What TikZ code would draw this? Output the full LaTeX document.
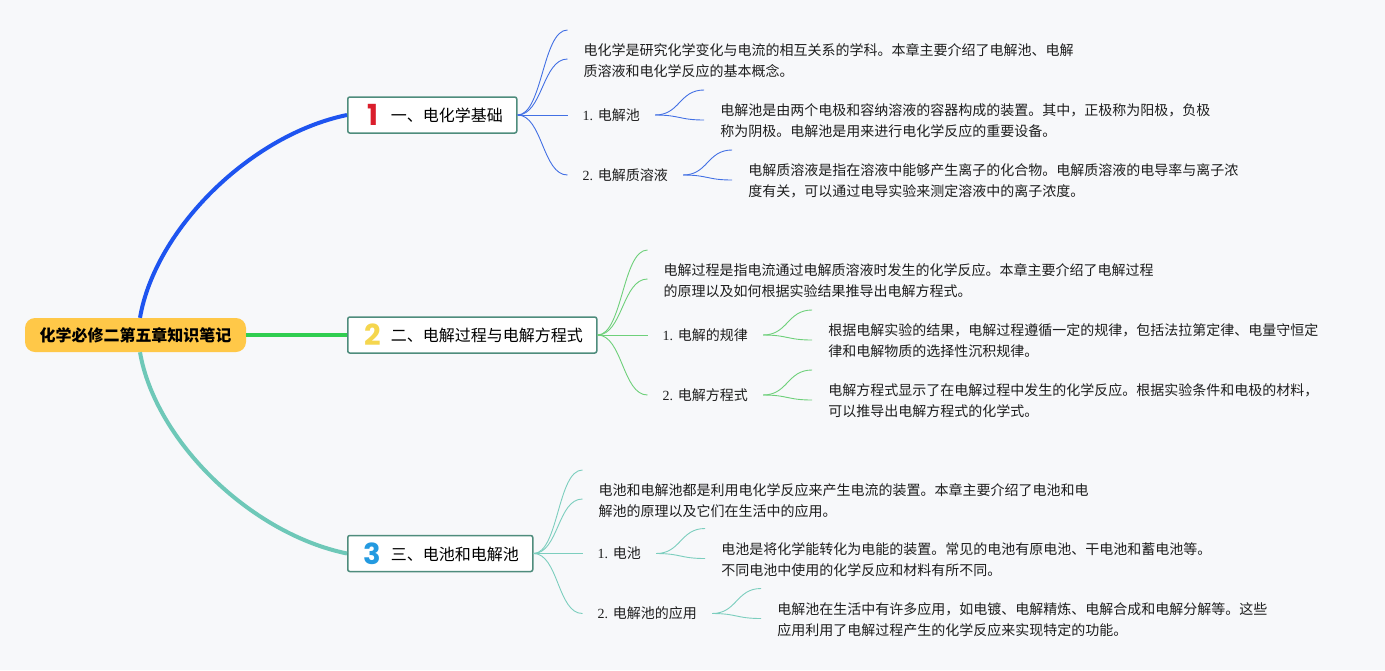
\documentclass[tikz,border=0pt]{standalone}
\usepackage{fontspec}
\setmainfont{Noto Sans CJK SC}
\newfontfamily\lat{Liberation Serif}
\newfontfamily\numfont{Poppins}
\usetikzlibrary{calc}
\definecolor{bgc}{RGB}{247,248,250}
\definecolor{boxc}{RGB}{78,140,124}
\definecolor{rootc}{RGB}{255,200,72}
\definecolor{blueM}{RGB}{30,84,240}
\definecolor{blueT}{RGB}{66,112,228}
\definecolor{greenM}{RGB}{48,206,80}
\definecolor{greenT}{RGB}{110,208,122}
\definecolor{tealM}{RGB}{110,200,184}
\definecolor{tealT}{RGB}{124,206,190}
\definecolor{numR}{RGB}{218,30,44}
\definecolor{numY}{RGB}{245,214,78}
\definecolor{numB}{RGB}{36,154,224}
\definecolor{txt}{RGB}{30,30,30}
\newcommand\numic[2]{\makebox[22pt][c]{\raisebox{-4pt}{\numfont\bfseries\fontsize{29}{29}\selectfont\color{#1}#2}}\hspace{7pt}}
\begin{document}
\begin{tikzpicture}[x=1pt,y=-1pt,
  rootbox/.style={fill=rootc, rounded corners=10pt, minimum height=34pt, inner xsep=14.5pt, inner ysep=0pt, font=\bfseries\fontsize{16}{16}\selectfont, text=black},
  topicbox/.style={draw=boxc, line width=1.5pt, fill=white, rounded corners=2pt, minimum height=36pt, inner xsep=14pt, inner ysep=0pt, anchor=west, font=\fontsize{16}{16}\selectfont, text=black},
  lbl/.style={anchor=west, inner xsep=15pt, inner ysep=2pt, font=\fontsize{14}{14}\selectfont, text=txt},
  desc/.style={anchor=west, align=left, inner sep=0pt, font=\fontsize{14}{21}\selectfont, text=txt},
  thinB/.style={draw=blueT, line width=0.9pt},
  thinG/.style={draw=greenT, line width=0.9pt},
  thinT/.style={draw=tealT, line width=0.9pt}
]
\fill[bgc] (0,0) rectangle (1385,670);
\useasboundingbox (0,0) rectangle (1385,670);

% root and topics
\node[rootbox] (root) at (135.5,335) {化学必修二第五章知识笔记};
\node[topicbox] (t1) at (347,115) {\numic{numR}{1}一、电化学基础};
\node[topicbox] (t2) at (347,335) {\numic{numY}{2}二、电解过程与电解方程式};
\node[topicbox] (t3) at (347,553.5) {\numic{numB}{3}三、电池和电解池};

\draw[blueM, line width=4pt] ($(root.north)+(4.5,0)$) .. controls +(15,-88) and +(-97,20) .. (t1.west);
\draw[greenM, line width=4.5pt] (root.east) -- (t2.west);
\draw[tealM, line width=4pt] ($(root.south)+(4.5,0)$) .. controls +(15,88) and +(-97,-20) .. (t3.west);

% ---------- branch 1
\coordinate (e1a) at ($(t1.east)+(50,-85)$);
\coordinate (e1b) at ($(t1.east)+(50,-56)$);
\node[lbl] (l11) at ($(t1.east)+(50,0)$) {{\lat 1. }电解池};
\node[lbl] (l12) at ($(t1.east)+(50,60)$) {{\lat 2. }电解质溶液};
\node[desc] (d10) at ($(e1a)+(16,30.5)$) {电化学是研究化学变化与电流的相互关系的学科。本章主要介绍了电解池、电解\\质溶液和电化学反应的基本概念。};
\foreach \e in {e1a,e1b,l11.west,l12.west}
  \draw[thinB] (t1.east) .. controls +(25,0) and +(-25,0) .. (\e);
\coordinate (e11a) at ($(l11.east)+(49,-25)$);
\coordinate (e11b) at ($(l11.east)+(49,5)$);
\node[desc] (d11) at ($(e11a)+(16,31)$) {电解池是由两个电极和容纳溶液的容器构成的装置。其中，正极称为阳极，负极\\称为阴极。电解池是用来进行电化学反应的重要设备。};
\draw[thinB] (l11.east) .. controls +(25,0) and +(-25,0) .. (e11a);
\draw[thinB] (l11.east) .. controls +(25,0) and +(-25,0) .. (e11b);
\coordinate (e12a) at ($(l12.east)+(49,-25)$);
\coordinate (e12b) at ($(l12.east)+(49,5)$);
\node[desc] (d12) at ($(e12a)+(16,31)$) {电解质溶液是指在溶液中能够产生离子的化合物。电解质溶液的电导率与离子浓\\度有关，可以通过电导实验来测定溶液中的离子浓度。};
\draw[thinB] (l12.east) .. controls +(25,0) and +(-25,0) .. (e12a);
\draw[thinB] (l12.east) .. controls +(25,0) and +(-25,0) .. (e12b);

% ---------- branch 2
\coordinate (e2a) at ($(t2.east)+(50,-85)$);
\coordinate (e2b) at ($(t2.east)+(50,-56)$);
\node[lbl] (l21) at ($(t2.east)+(50,0)$) {{\lat 1. }电解的规律};
\node[lbl] (l22) at ($(t2.east)+(50,60)$) {{\lat 2. }电解方程式};
\node[desc] (d20) at ($(e2a)+(16,31)$) {电解过程是指电流通过电解质溶液时发生的化学反应。本章主要介绍了电解过程\\的原理以及如何根据实验结果推导出电解方程式。};
\foreach \e in {e2a,e2b,l21.west,l22.west}
  \draw[thinG] (t2.east) .. controls +(25,0) and +(-25,0) .. (\e);
\coordinate (e21a) at ($(l21.east)+(49,-25)$);
\coordinate (e21b) at ($(l21.east)+(49,5)$);
\node[desc] (d21) at ($(e21a)+(16,31)$) {根据电解实验的结果，电解过程遵循一定的规律，包括法拉第定律、电量守恒定\\律和电解物质的选择性沉积规律。};
\draw[thinG] (l21.east) .. controls +(25,0) and +(-25,0) .. (e21a);
\draw[thinG] (l21.east) .. controls +(25,0) and +(-25,0) .. (e21b);
\coordinate (e22a) at ($(l22.east)+(49,-25)$);
\coordinate (e22b) at ($(l22.east)+(49,5)$);
\node[desc] (d22) at ($(e22a)+(16,31)$) {电解方程式显示了在电解过程中发生的化学反应。根据实验条件和电极的材料，\\可以推导出电解方程式的化学式。};
\draw[thinG] (l22.east) .. controls +(25,0) and +(-25,0) .. (e22a);
\draw[thinG] (l22.east) .. controls +(25,0) and +(-25,0) .. (e22b);

% ---------- branch 3
\coordinate (e3a) at ($(t3.east)+(49,-83.5)$);
\coordinate (e3b) at ($(t3.east)+(49,-54.5)$);
\node[lbl] (l31) at ($(t3.east)+(49,0)$) {{\lat 1. }电池};
\node[lbl] (l32) at ($(t3.east)+(49,60)$) {{\lat 2. }电解池的应用};
\node[desc] (d30) at ($(e3a)+(16,31)$) {电池和电解池都是利用电化学反应来产生电流的装置。本章主要介绍了电池和电\\解池的原理以及它们在生活中的应用。};
\foreach \e in {e3a,e3b,l31.west,l32.west}
  \draw[thinT] (t3.east) .. controls +(25,0) and +(-25,0) .. (\e);
\coordinate (e31a) at ($(l31.east)+(49,-25)$);
\coordinate (e31b) at ($(l31.east)+(49,5)$);
\node[desc] (d31) at ($(e31a)+(16,31)$) {电池是将化学能转化为电能的装置。常见的电池有原电池、干电池和蓄电池等。\\不同电池中使用的化学反应和材料有所不同。};
\draw[thinT] (l31.east) .. controls +(25,0) and +(-25,0) .. (e31a);
\draw[thinT] (l31.east) .. controls +(25,0) and +(-25,0) .. (e31b);
\coordinate (e32a) at ($(l32.east)+(49,-25)$);
\coordinate (e32b) at ($(l32.east)+(49,5)$);
\node[desc] (d32) at ($(e32a)+(16,31)$) {电解池在生活中有许多应用，如电镀、电解精炼、电解合成和电解分解等。这些\\应用利用了电解过程产生的化学反应来实现特定的功能。};
\draw[thinT] (l32.east) .. controls +(25,0) and +(-25,0) .. (e32a);
\draw[thinT] (l32.east) .. controls +(25,0) and +(-25,0) .. (e32b);
\end{tikzpicture}
\end{document}
